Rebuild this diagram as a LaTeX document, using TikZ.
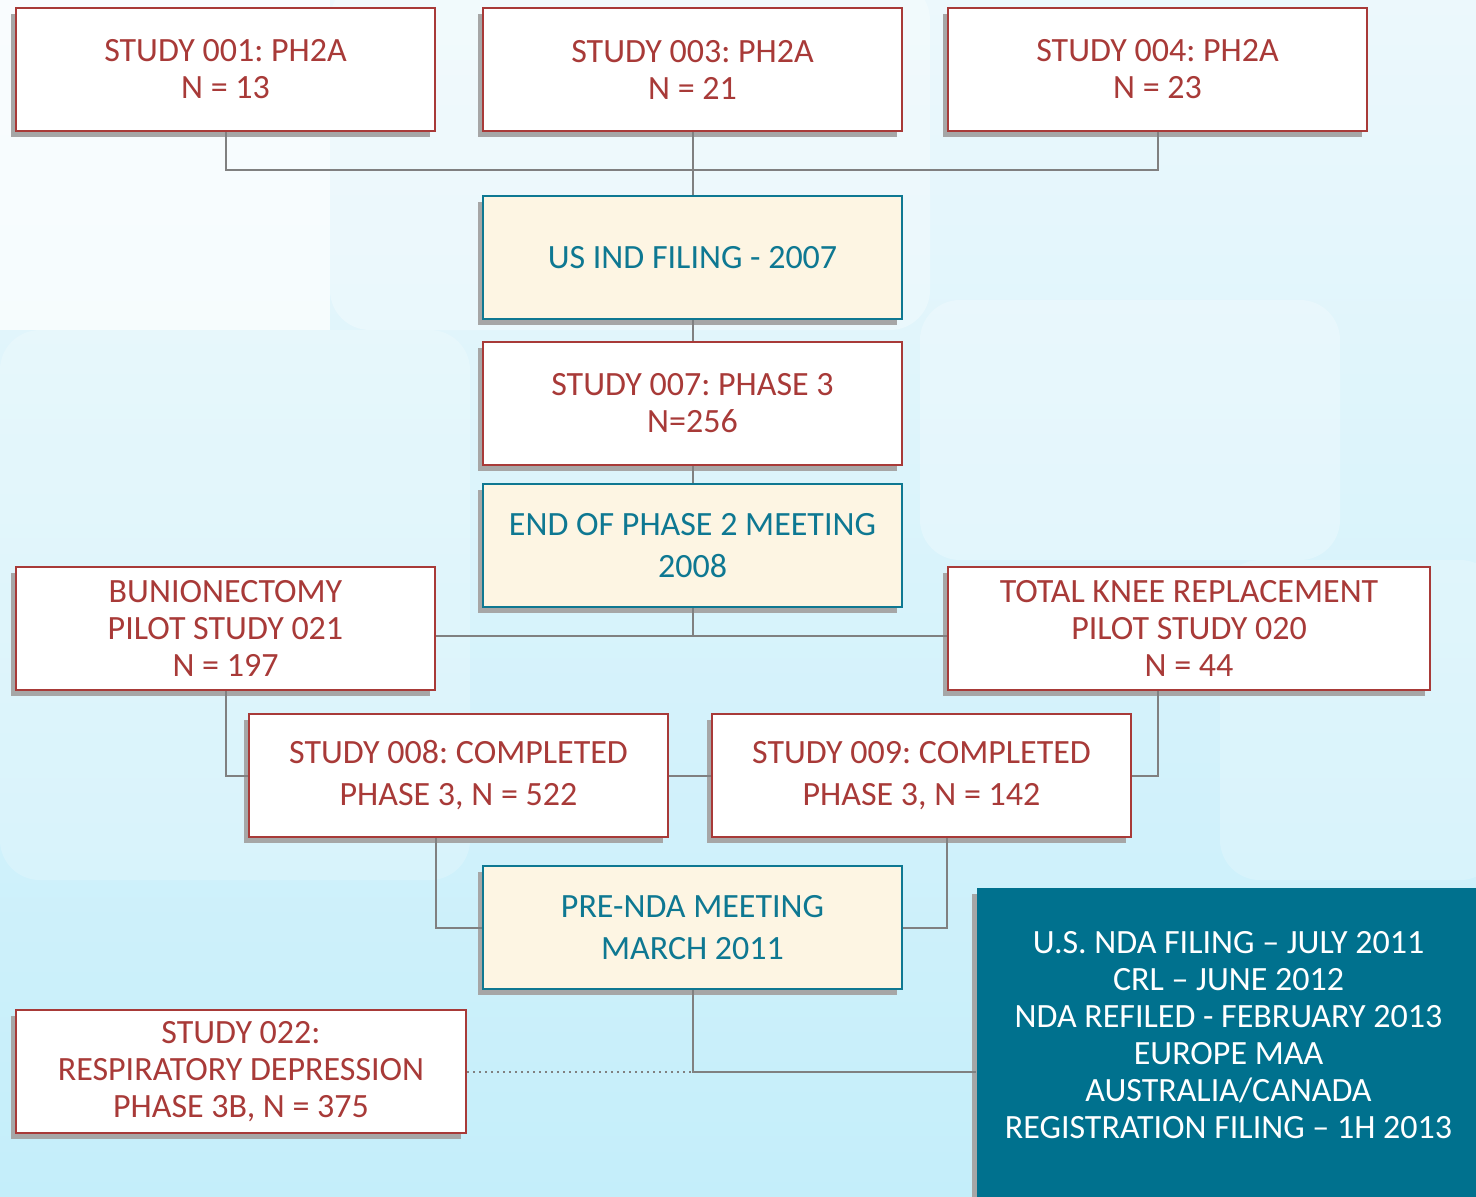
\documentclass[tikz,border=0pt]{standalone}
\usepackage{fontspec}
\setmainfont{Carlito}
\frenchspacing
\usetikzlibrary{shadows}

\definecolor{studyred}{RGB}{168,58,56}
\definecolor{mileteal}{RGB}{14,120,146}
\definecolor{milefill}{RGB}{253,245,227}
\definecolor{ndateal}{RGB}{0,113,142}
\definecolor{linkgray}{RGB}{128,128,128}
\definecolor{skytop}{RGB}{236,248,252}
\definecolor{skybot}{RGB}{196,238,250}

\tikzset{
  base/.style={rectangle, line width=1pt, align=center, inner sep=2pt,
    minimum width=209.5pt, minimum height=61.5pt,
    drop shadow={shadow xshift=-2.5pt, shadow yshift=-3pt, fill=black!35, opacity=1}},
  study/.style={base, draw=studyred, fill=white, text=studyred,
    font=\fontsize{17}{18.5}\selectfont},
  studywide/.style={study, font=\fontsize{17}{21}\selectfont},
  milestone/.style={base, draw=mileteal, fill=milefill, text=mileteal,
    font=\fontsize{17}{21}\selectfont},
  filing/.style={base, draw=none, fill=ndateal, text=white,
    font=\fontsize{17}{18.5}\selectfont},
  link/.style={draw=linkgray, line width=1pt},
}

\begin{document}
\begin{tikzpicture}[x=0.5pt, y=-0.5pt]
  \useasboundingbox (0,0) rectangle (1476,1196);
  % background
  \shade[top color=skytop, bottom color=skybot] (0,0) rectangle (1476,1196);
  \fill[white, opacity=.7] (0,0) rectangle (330,330);
  \fill[white, opacity=.3, rounded corners=20pt] (330,-20) rectangle (930,330);
  \fill[white, opacity=.25, rounded corners=20pt] (920,300) rectangle (1340,560);
  \fill[white, opacity=.2, rounded corners=20pt] (1220,560) rectangle (1500,880);
  \fill[white, opacity=.2, rounded corners=20pt] (0,330) rectangle (470,880);

  % studies and milestones
  \node at (225.5,69.5) [study] (s001) {STUDY 001: PH2A\\N = 13};
  \node at (692.5,69.5) [study] (s003) {STUDY 003: PH2A\\N = 21};
  \node at (1157.5,69.5) [study] (s004) {STUDY 004: PH2A\\N = 23};
  \node at (692.5,257.5) [milestone] (ind) {US IND FILING - 2007};
  \node at (692.5,403.5) [study] (s007) {STUDY 007: PHASE 3\\N=256};
  \node at (692.5,545.5) [milestone] (eop) {END OF PHASE 2 MEETING\\2008};
  \node at (225.5,628.5) [study] (bun) {BUNIONECTOMY\\PILOT STUDY 021\\N = 197};
  \node at (1189,628.5) [study, minimum width=241pt] (tkr) {TOTAL KNEE REPLACEMENT\\PILOT STUDY 020\\N = 44};
  \node at (458.5,775.5) [studywide] (s008) {STUDY 008: COMPLETED\\PHASE 3, N = 522};
  \node at (921.5,775.5) [studywide] (s009) {STUDY 009: COMPLETED\\PHASE 3, N = 142};
  \node at (692.5,927.5) [milestone] (prenda) {PRE-NDA MEETING\\MARCH 2011};
  \node at (241,1071.5) [study, minimum width=225pt] (s022) {STUDY 022:\\RESPIRATORY DEPRESSION\\PHASE 3B, N = 375};
  \node at (1228.5,1044) [filing, minimum width=251.5pt, minimum height=156pt] (nda)
    {U.S. NDA FILING – JULY 2011\\CRL – JUNE 2012\\NDA REFILED - FEBRUARY 2013\\EUROPE MAA\\AUSTRALIA/CANADA\\REGISTRATION FILING – 1H 2013\\[-9.5pt]};

  % connectors
  \coordinate (topbus) at (692.5,170);
  \coordinate (midbus) at (692.5,636);
  \draw[link] (s001.south) |- (topbus) -| (s004.south);
  \draw[link] (s003.south) -- (ind.north);
  \draw[link] (ind.south) -- (s007.north);
  \draw[link] (s007.south) -- (eop.north);
  \draw[link] (eop.south) -- (midbus);
  \draw[link] (bun.east |- midbus) -- (tkr.west |- midbus);
  \draw[link] (bun.south) |- (s008.west);
  \draw[link] (s009.east) -| (tkr.south -| s004.south);
  \draw[link] (s008.east) -- (s009.west);
  \draw[link] (s008.south -| bun.east) |- (prenda.west);
  \draw[link] (s009.south -| tkr.west) |- (prenda.east);
  \draw[link] (prenda.south) |- (nda.west |- s022.east);
  \draw[link, dotted] (s022.east) -- (prenda.south |- s022.east);
\end{tikzpicture}
\end{document}
